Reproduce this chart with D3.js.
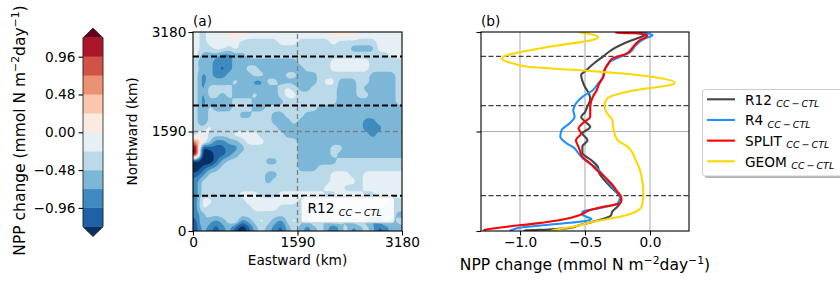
<!DOCTYPE html>
<html><head><meta charset="utf-8">
<script src="https://cdn.jsdelivr.net/npm/d3@7"></script>
<style>body{margin:0;background:#fff}svg{font-family:"DejaVu Sans",sans-serif;display:block}</style>
</head><body><svg id="c" width="840" height="282"></svg>
<script>
// ---------- data ----------
const kmDomain = [0, 3180];
const kmTicks = [0, 1590, 3180];
const nppDomainB = [-1.3, 0.3];
const nppTicksB = [-1.0, -0.5, 0.0];
const cbarTicks = [-0.96, -0.48, 0.00, 0.48, 0.96];
const cbarLevels = [-1.2, -0.96, -0.72, -0.48, -0.24, 0, 0.24, 0.48, 0.72, 0.96, 1.2];
const transectKm = [2790, 2005, 565];
const rdbuColors = ["#67001f","#b2182b","#d6604d","#f4a582","#fddbc7","#f7f7f7","#d1e5f0","#92c5de","#4393c3","#2166ac","#053061"];
// grid cell codes -> NPP change value
const cellCode = {R:1.3, o:0.6, p:0.12, w:-0.12, l:-0.36, m:-0.6, b:-0.84, d:-1.08, n:-1.45};
// rows from north (3180 km) to south (0 km), 32 columns west->east
const nppGridRows = [
 "wlwwwpppwwwwwwwwwwwwwppppwwwwwww",
 "wlwwwwwllllllwwwlllllwllllllwwww",
 "wllwwlwlllllllllllllllllmmmmwwww",
 "wmmmbbmmllllllllllllllllllllllww",
 "lbmbbbmmmmmmmmmmlllllwwwwwwlllll",
 "lmmbdbmmllmmmmmmmllllwwwwwwlllll",
 "lbmbbmmmmllmmmllmmmllllllllmmmml",
 "lbmmmmlmmbbllmmmmmmlwwmmmllmmmml",
 "lbllllmmmmmmmlwlmmllllmmmlmmmmml",
 "lbllmlmmmlmmmlwwllllllmmmllmmmml",
 "lbmmmmlllmmmmmllllllllmmmmmmmmml",
 "lblmmmlllmmllllllllmmmmmmmmmmmmm",
 "lblllllmmlllmmlllmmmmmmmmmmmmmmm",
 "lbllllllllllmmmlmmmmmmmmmmbbmmmm",
 "llwllllllllllmmmmmmmmmmmmmbbbmmm",
 "lpllllwwwwllllmmmmmmmmmmmmmbmmmm",
 "oplbbmmlwwwlllllmmmmmmmmmmmmmmmm",
 "Rndddbbmllllllllmmmmmllmmmmmmmmm",
 "Rnnddbmlllllllllmmmmmlmmmmmmmmmm",
 "nnndmllllllmmlllmmmmmmllllllllll",
 "ndbmllllllllllllmmmlllllllllllll",
 "dblllllllllmmllllllllwwwllwwwwww",
 "bllllllllllmlllllllllwwwwlwwwwww",
 "blllllllllllllllllllwwwlllwwwwww",
 "bllllllwwwlllwwwwwwwllwwwwllwwww",
 "bwwlllllwwwwwwwwllwwwwwwwwwwwwll",
 "bwlllllllwwwwllllllwwwwwwwwwwlll",
 "bmllllllllllllllllllwwwwwwwllllm",
 "dlmbmlwbmlwlmblwlmwlmwlmlwmbmlml",
 "dmbdbmdndmlmbdmlmbmlmdmlbmlmdbmm"
];
const seriesNames = ["R12", "R4", "SPLIT", "GEOM"];
const seriesColors = ["#464646", "#1e90ff", "#ff0000", "#ffd700"];
const r12North = [3180,3150,3100,3047,2968,2888,2790,2680,2570,2490,2400,2300,2200,2100,2000,1900,1820,1750,1660,1560,1450,1350,1250,1130,1020,920,810,700,600,490,390,310,250,175,95,50,25,10,0];
const r12Npp   = [-0.04,-0.03,-0.07,-0.14,-0.23,-0.30,-0.36,-0.43,-0.49,-0.53,-0.52,-0.50,-0.47,-0.46,-0.48,-0.50,-0.53,-0.50,-0.46,-0.52,-0.48,-0.52,-0.52,-0.45,-0.40,-0.39,-0.35,-0.30,-0.25,-0.22,-0.25,-0.29,-0.30,-0.39,-0.54,-0.62,-0.78,-0.95,-0.97];
const r4North = [3180,3170,3127,3075,2968,2862,2782,2702,2569,2462,2356,2250,2143,2037,1930,1825,1718,1611,1505,1400,1320,1240,1130,1020,920,810,700,550,442,362,308,260,228,187,148,112,96,59,20,0];
const r4Npp   = [-0.20,-0.05,0.02,-0.04,-0.11,-0.15,-0.23,-0.31,-0.35,-0.36,-0.40,-0.44,-0.52,-0.57,-0.59,-0.58,-0.62,-0.68,-0.69,-0.64,-0.58,-0.55,-0.50,-0.42,-0.37,-0.33,-0.29,-0.23,-0.25,-0.39,-0.52,-0.52,-0.49,-0.45,-0.54,-0.72,-0.80,-0.98,-1.06,-1.08];
const splitNorth = [3180,3165,3160,3130,3100,3047,2941,2835,2755,2676,2569,2462,2356,2250,2143,1984,1825,1718,1640,1560,1452,1345,1290,1185,1080,975,868,762,655,522,442,388,335,255,175,122,69,27,10];
const splitNpp   = [-0.26,-0.26,-0.12,-0.02,-0.03,-0.08,-0.13,-0.18,-0.29,-0.32,-0.35,-0.36,-0.39,-0.41,-0.44,-0.46,-0.46,-0.52,-0.55,-0.53,-0.57,-0.55,-0.54,-0.52,-0.46,-0.41,-0.35,-0.30,-0.26,-0.22,-0.23,-0.36,-0.46,-0.54,-0.69,-0.87,-1.10,-1.25,-1.28];
const geomNorth = [3180,3100,3047,2968,2888,2808,2755,2676,2621,2569,2516,2462,2370,2329,2277,2197,2117,2010,1878,1771,1611,1452,1345,1133,921,602,415,308,228,148,69,32,8,0];
const geomNpp   = [-0.55,-0.40,-0.45,-0.70,-0.92,-1.10,-1.14,-1.05,-0.92,-0.54,-0.21,0.02,0.19,0.15,-0.03,-0.23,-0.33,-0.35,-0.33,-0.29,-0.28,-0.25,-0.17,-0.11,-0.07,-0.05,-0.06,-0.11,-0.23,-0.44,-0.59,-0.70,-0.75,-0.76];
const seriesNorth = [r12North, r4North, splitNorth, geomNorth];
const seriesNpp = [r12Npp, r4Npp, splitNpp, geomNpp];

// ---------- setup ----------
const FS = 13.7, SUB = FS * 0.7;
const FL = 15.5, SUBL = FL * 0.7;
const svg = d3.select("#c");
const xA = d3.scaleLinear().domain(kmDomain).range([193, 402]);
const yA = d3.scaleLinear().domain(kmDomain).range([231, 32]);
const xB = d3.scaleLinear().domain(nppDomainB).range([481, 689]);
const yB = yA.copy();
const yC = d3.scaleLinear().domain([cbarLevels[0], cbarLevels[cbarLevels.length-1]]).range([226.8, 37.8]);

const cmap = d3.scaleLinear().domain(d3.range(11).map(i => i/10)).range(rdbuColors.slice().reverse()).interpolate(d3.interpolateRgb);
const nBands = cbarLevels.length - 1;
const bandColors = d3.range(nBands + 2).map(i => cmap(i / (nBands + 1)));

const minus = s => s.replace(/-/g, "\u2212");
const intFmt = d3.format("d");

// ---------- colorbar ----------
const gC = svg.append("g");
const cbX0 = 83, cbX1 = 103, cbMid = 93;
for (let k = 0; k < nBands; k++) {
  gC.append("rect").attr("x", cbX0).attr("width", cbX1 - cbX0)
    .attr("y", yC(cbarLevels[k+1])).attr("height", yC(cbarLevels[k]) - yC(cbarLevels[k+1]))
    .attr("fill", bandColors[k+1]).attr("stroke", bandColors[k+1]).attr("stroke-width", 0.3);
}
const cTop = yC(cbarLevels[nBands]), cBot = yC(cbarLevels[0]);
gC.append("path").attr("d", `M${cbX0},${cTop}L${cbMid},${cTop-9.8}L${cbX1},${cTop}Z`).attr("fill", bandColors[nBands+1]);
gC.append("path").attr("d", `M${cbX0},${cBot}L${cbMid},${cBot+9.8}L${cbX1},${cBot}Z`).attr("fill", bandColors[0]);
gC.append("path").attr("d", `M${cbX0},${cTop}L${cbMid},${cTop-9.8}L${cbX1},${cTop}L${cbX1},${cBot}L${cbMid},${cBot+9.8}L${cbX0},${cBot}Z`)
  .attr("fill", "none").attr("stroke", "#222").attr("stroke-width", 0.8);
const cAxis = d3.axisLeft(yC).tickValues(cbarTicks).tickSize(4.5).tickPadding(3).tickFormat(d => minus(d3.format(".2f")(d)));
const cAx = gC.append("g").attr("transform", `translate(${cbX0},0)`).call(cAxis);
cAx.select(".domain").remove();
cAx.selectAll("text").attr("font-size", FS).attr("font-family", "DejaVu Sans").attr("fill", "#000");
cAx.selectAll("line").attr("stroke", "#000").attr("stroke-width", 1.1);

function nppLabel(t) {
  t.append("tspan").text("NPP change (mmol N m");
  t.append("tspan").attr("font-size", SUBL).attr("dy", -6).text("\u22122");
  t.append("tspan").attr("dy", 6).text("day");
  t.append("tspan").attr("font-size", SUBL).attr("dy", -6).text("\u22121");
  t.append("tspan").attr("dy", 6).text(")");
}
nppLabel(svg.append("text").attr("transform", "translate(25,130.5) rotate(-90)")
  .attr("text-anchor", "middle").attr("font-size", FL));

// ---------- panel (a) ----------
const gA = svg.append("g");
gA.append("clipPath").attr("id", "clipA").append("rect")
  .attr("x", xA(0)).attr("y", yA(3180)).attr("width", xA(3180) - xA(0)).attr("height", yA(0) - yA(3180));
const mapG = gA.append("g").attr("clip-path", "url(#clipA)");
const ny = nppGridRows.length, nx = 32;
const coarse = (c, r) => {
  r = Math.min(ny - 1, Math.max(0, r)); c = Math.min(nx - 1, Math.max(0, c));
  const row = nppGridRows[r];
  return cellCode[row[Math.min(c, row.length - 1)]];
};
// upsample (bilinear) and lightly blur for smooth contour shapes
const f = 4, FW = nx * f, FH = ny * f;
let fine = new Float64Array(FW * FH);
for (let j = 0; j < FH; j++) for (let i = 0; i < FW; i++) {
  const u = (i + 0.5) / f - 0.5, v = (j + 0.5) / f - 0.5;
  const c0 = Math.floor(u), r0 = Math.floor(v), tu = u - c0, tv = v - r0;
  fine[j * FW + i] = (1 - tu) * (1 - tv) * coarse(c0, r0) + tu * (1 - tv) * coarse(c0 + 1, r0)
                   + (1 - tu) * tv * coarse(c0, r0 + 1) + tu * tv * coarse(c0 + 1, r0 + 1);
}
function boxBlur(a, rad) {
  const o = new Float64Array(a.length), t = new Float64Array(a.length);
  for (let j = 0; j < FH; j++) for (let i = 0; i < FW; i++) {
    let s = 0, n = 0;
    for (let k = -rad; k <= rad; k++) { const ii = Math.min(FW - 1, Math.max(0, i + k)); s += a[j * FW + ii]; n++; }
    t[j * FW + i] = s / n;
  }
  for (let j = 0; j < FH; j++) for (let i = 0; i < FW; i++) {
    let s = 0, n = 0;
    for (let k = -rad; k <= rad; k++) { const jj = Math.min(FH - 1, Math.max(0, j + k)); s += t[jj * FW + i]; n++; }
    o[j * FW + i] = s / n;
  }
  return o;
}
fine = boxBlur(boxBlur(fine, 1), 1);
const W = FW + 2, H = FH + 2;
const vals = new Array(W * H);
for (let j = 0; j < H; j++) for (let i = 0; i < W; i++) {
  const jj = Math.min(FH - 1, Math.max(0, j - 1)), ii = Math.min(FW - 1, Math.max(0, i - 1));
  vals[j * W + i] = fine[jj * FW + ii];
}
const cellX = 3180 / FW, cellY = 3180 / FH;
const proj = d3.geoTransform({ point(x, y) { this.stream.point(xA((x - 1) * cellX), yA(3180 - (y - 1) * cellY)); } });
const gpath = d3.geoPath(proj);
const contours = d3.contours().size([W, H]).thresholds(cbarLevels)(vals);
mapG.append("rect").attr("x", xA(0)).attr("y", yA(3180)).attr("width", 209).attr("height", 199).attr("fill", bandColors[0]);
contours.forEach((c, k) => {
  mapG.append("path").attr("d", gpath(c)).attr("fill", bandColors[k + 1]);
});
// gray dashed grid at 1590
gA.append("line").attr("x1", xA(1590)).attr("x2", xA(1590)).attr("y1", yA(0)).attr("y2", yA(3180))
  .attr("stroke", "#808080").attr("stroke-width", 1.3).attr("stroke-dasharray", "5,3");
gA.append("line").attr("x1", xA(0)).attr("x2", xA(3180)).attr("y1", yA(1590)).attr("y2", yA(1590))
  .attr("stroke", "#808080").attr("stroke-width", 1.3).attr("stroke-dasharray", "5,3");
transectKm.forEach(v => {
  gA.append("line").attr("x1", xA(0)).attr("x2", xA(3180)).attr("y1", yA(v)).attr("y2", yA(v))
    .attr("stroke", "#000").attr("stroke-width", 2).attr("stroke-dasharray", "6,3");
});
// label box
gA.append("rect").attr("x", 301).attr("y", 196.8).attr("width", 93.5).attr("height", 26).attr("rx", 3)
  .attr("fill", "#fff").attr("fill-opacity", 0.85).attr("stroke", "#d0d0d0").attr("stroke-width", 1);
function subLabel(g, x, y, main, sub) {
  const t = g.append("text").attr("x", x).attr("y", y).attr("font-size", FS);
  t.append("tspan").text(main + " ");
  t.append("tspan").attr("font-size", SUB).attr("font-style", "italic").attr("dy", 2.6).text(sub);
  return t;
}
subLabel(gA, 307.5, 213.3, "R12", "CC\u2009\u2212\u2009CTL");
gA.append("rect").attr("x", xA(0)).attr("y", yA(3180)).attr("width", 209).attr("height", 199)
  .attr("fill", "none").attr("stroke", "#000").attr("stroke-width", 1.1);
const axA_x = gA.append("g").attr("transform", `translate(0,${yA(0)})`)
  .call(d3.axisBottom(xA).tickValues(kmTicks).tickSize(4.5).tickPadding(2).tickSizeOuter(0).tickFormat(intFmt));
const axA_y = gA.append("g").attr("transform", `translate(${xA(0)},0)`)
  .call(d3.axisLeft(yA).tickValues(kmTicks).tickSize(4.5).tickPadding(2).tickSizeOuter(0).tickFormat(intFmt));
[axA_x, axA_y].forEach(a => {
  a.select(".domain").remove();
  a.selectAll("text").attr("font-size", FS).attr("font-family", "DejaVu Sans").attr("fill", "#000");
  a.selectAll("line").attr("stroke", "#000").attr("stroke-width", 1.1);
});
gA.append("text").attr("x", xA(1590)).attr("y", 264.5).attr("text-anchor", "middle").attr("font-size", FS).text("Eastward (km)");
gA.append("text").attr("transform", `translate(136.5,${yA(1590)}) rotate(-90)`).attr("text-anchor", "middle").attr("font-size", FS).text("Northward (km)");
gA.append("text").attr("x", 193).attr("y", 25.5).attr("font-size", FS).text("(a)");

// ---------- panel (b) ----------
const gB = svg.append("g");
gB.append("clipPath").attr("id", "clipB").append("rect")
  .attr("x", xB.range()[0]).attr("y", 32).attr("width", xB.range()[1] - xB.range()[0]).attr("height", 199);
nppTicksB.forEach(v => {
  gB.append("line").attr("x1", xB(v)).attr("x2", xB(v)).attr("y1", yB(0)).attr("y2", yB(3180))
    .attr("stroke", "#b0b0b0").attr("stroke-width", 1.1);
});
gB.append("line").attr("x1", xB.range()[0]).attr("x2", xB.range()[1]).attr("y1", yB(1590)).attr("y2", yB(1590))
  .attr("stroke", "#b0b0b0").attr("stroke-width", 1.1);
transectKm.forEach(v => {
  gB.append("line").attr("x1", xB.range()[0]).attr("x2", xB.range()[1]).attr("y1", yB(v)).attr("y2", yB(v))
    .attr("stroke", "#404040").attr("stroke-width", 1.3).attr("stroke-dasharray", "5,2.5");
});
const lineG = gB.append("g").attr("clip-path", "url(#clipB)");
const lineGen = d3.line().x(d => xB(d[1])).y(d => yB(d[0])).curve(d3.curveMonotoneY);
seriesNames.forEach((n, i) => {
  const pts = seriesNorth[i].map((v, j) => [v, seriesNpp[i][j]]);
  lineG.append("path").attr("d", lineGen(pts)).attr("fill", "none")
    .attr("stroke", seriesColors[i]).attr("stroke-width", 2.1).attr("stroke-linejoin", "round");
});
gB.append("rect").attr("x", xB.range()[0]).attr("y", 32).attr("width", xB.range()[1] - xB.range()[0]).attr("height", 199)
  .attr("fill", "none").attr("stroke", "#000").attr("stroke-width", 1.1);
const axB_x = gB.append("g").attr("transform", `translate(0,${yB(0)})`)
  .call(d3.axisBottom(xB).tickValues(nppTicksB).tickSize(4.5).tickPadding(2).tickSizeOuter(0).tickFormat(d => minus(d3.format(".1f")(d))));
const axB_y = gB.append("g").attr("transform", `translate(${xB.range()[0]},0)`)
  .call(d3.axisLeft(yB).tickValues(kmTicks).tickSize(4.5).tickFormat("").tickSizeOuter(0));
[axB_x, axB_y].forEach(a => {
  a.select(".domain").remove();
  a.selectAll("text").attr("font-size", FS).attr("font-family", "DejaVu Sans").attr("fill", "#000");
  a.selectAll("line").attr("stroke", "#000").attr("stroke-width", 1.1);
});
nppLabel(gB.append("text").attr("x", 585).attr("y", 270).attr("text-anchor", "middle").attr("font-size", FL));
gB.append("text").attr("x", 481).attr("y", 25.5).attr("font-size", FS).text("(b)");

// ---------- legend ----------
const gL = svg.append("g");
gL.append("rect").attr("x", 704.5).attr("y", 91.5).attr("width", 150).attr("height", 86.5).attr("rx", 3)
  .attr("fill", "#000").attr("fill-opacity", 0.3);
gL.append("rect").attr("x", 702.5).attr("y", 89.5).attr("width", 150).attr("height", 86.5).attr("rx", 3)
  .attr("fill", "#fff").attr("stroke", "#cccccc").attr("stroke-width", 1);
seriesNames.forEach((n, i) => {
  const y = 99.3 + i * 20.67;
  gL.append("line").attr("x1", 707).attr("x2", 735).attr("y1", y).attr("y2", y)
    .attr("stroke", seriesColors[i]).attr("stroke-width", 2.1);
  subLabel(gL, 745, y + 5.2, n, "CC\u2009\u2212\u2009CTL");
});
</script></body></html>
